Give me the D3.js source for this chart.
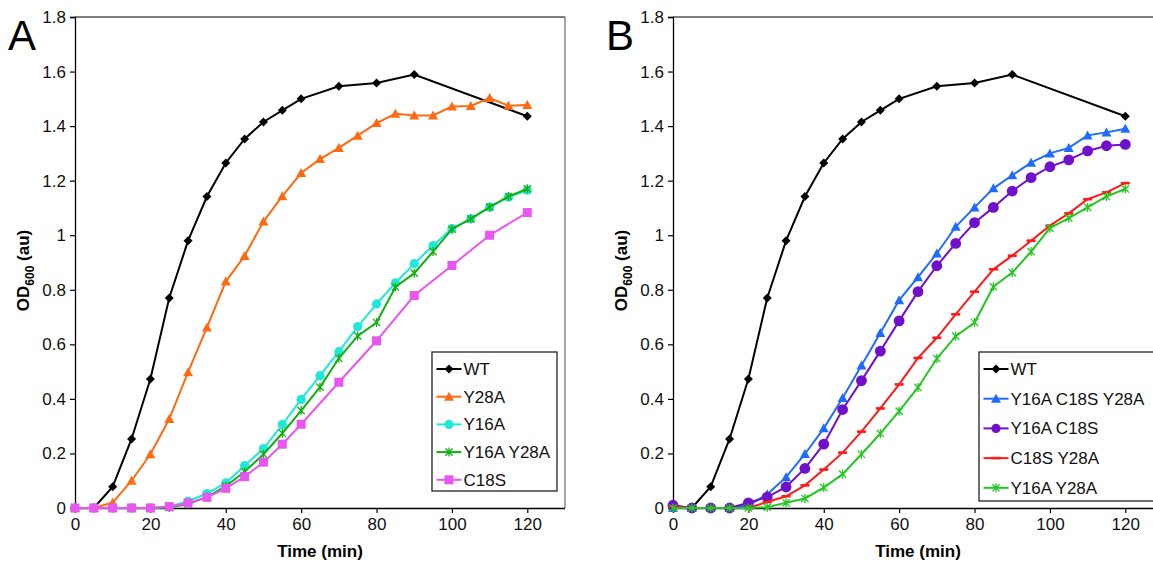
<!DOCTYPE html>
<html>
<head>
<meta charset="utf-8">
<script src="https://cdn.jsdelivr.net/npm/d3@7"></script>
<style>
  html, body { margin: 0; padding: 0; background: #fff; }
  svg { display: block; font-family: "Liberation Sans", Arial, sans-serif; }
</style>
</head>
<body>
<svg id="chart" width="1153" height="565"></svg>
<script>
// ---------- data ----------
const tAll   = [0,5,10,15,20,25,30,35,40,45,50,55,60,65,70,75,80,85,90,95,100,105,110,115,120];
const tWT    = [0,5,10,15,20,25,30,35,40,45,50,55,60,70,80,90,120];
const tC18S  = [0,5,10,15,20,25,30,35,40,45,50,55,60,70,80,90,100,110,120];

const wt        = [0,0,0.078,0.253,0.473,0.77,0.98,1.142,1.265,1.353,1.415,1.458,1.5,1.546,1.558,1.589,1.436];
const y28a      = [0,0,0.02,0.1,0.197,0.326,0.498,0.662,0.83,0.924,1.05,1.143,1.228,1.279,1.32,1.365,1.411,1.445,1.439,1.439,1.472,1.474,1.503,1.475,1.477];
const y16a      = [0,0,0,0,0,0.005,0.025,0.053,0.092,0.155,0.218,0.306,0.398,0.485,0.573,0.665,0.748,0.825,0.896,0.962,1.024,1.06,1.103,1.14,1.165];
const y16aY28aA = [0,0,0,0,0,0.002,0.015,0.04,0.08,0.133,0.197,0.274,0.357,0.443,0.549,0.631,0.68,0.81,0.861,0.94,1.022,1.06,1.103,1.142,1.17];
const c18s      = [0,0,0,0,0,0.005,0.018,0.039,0.072,0.115,0.168,0.234,0.307,0.461,0.613,0.779,0.889,1.0,1.083];

const y16aC18sY28a = [0,0,0,0,0.01,0.05,0.113,0.198,0.292,0.403,0.522,0.642,0.762,0.846,0.933,1.031,1.102,1.172,1.22,1.266,1.3,1.32,1.366,1.377,1.39];
const y16aC18s     = [0.01,0,0,0,0.019,0.04,0.077,0.145,0.234,0.361,0.467,0.575,0.686,0.793,0.888,0.97,1.046,1.102,1.162,1.211,1.251,1.276,1.309,1.328,1.333];
const c18sY28a     = [0.005,0,0,0,0,0.022,0.043,0.083,0.141,0.203,0.28,0.365,0.453,0.55,0.624,0.71,0.793,0.875,0.925,0.98,1.035,1.08,1.132,1.157,1.191];
const y16aY28aB    = [0,0,0,0,0,0.003,0.019,0.035,0.075,0.124,0.197,0.273,0.355,0.442,0.548,0.63,0.68,0.811,0.863,0.94,1.026,1.063,1.102,1.142,1.17];

const xTicks = [0,20,40,60,80,100,120];
const yTicks = [0,0.2,0.4,0.6,0.8,1,1.2,1.4,1.6,1.8];

const panelA = {
  letter: "A", left: 75,
  series: [
    {name:"WT",        t:tWT,   v:wt,        color:"#000000", marker:"diamond"},
    {name:"Y28A",      t:tAll,  v:y28a,      color:"#ff6a10", marker:"triangle"},
    {name:"Y16A",      t:tAll,  v:y16a,      color:"#20e8d8", marker:"circle"},
    {name:"Y16A Y28A", t:tAll,  v:y16aY28aA, color:"#10b010", marker:"star"},
    {name:"C18S",      t:tC18S, v:c18s,      color:"#e855f0", marker:"square"}
  ],
  legend: {x:432, y:352, w:125, h:139, rowH:27.7, firstY:369}
};
const panelB = {
  letter: "B", left: 673,
  series: [
    {name:"WT",             t:tWT,  v:wt,           color:"#000000", marker:"diamond"},
    {name:"Y16A C18S Y28A", t:tAll, v:y16aC18sY28a, color:"#1f6bff", marker:"triangle"},
    {name:"Y16A C18S",      t:tAll, v:y16aC18s,     color:"#7010cc", marker:"bigcircle"},
    {name:"C18S Y28A",      t:tAll, v:c18sY28a,     color:"#ff1a1a", marker:"dash"},
    {name:"Y16A Y28A",      t:tAll, v:y16aY28aB,    color:"#22c822", marker:"star"}
  ],
  legend: {x:979, y:352, w:200, h:149, rowH:29.7, firstY:369}
};

// ---------- drawing ----------
const svg = d3.select("#chart");
const plotTop = 17, plotBottom = 508, plotW = 490;

function drawMarker(g, type, color) {
  switch (type) {
    case "diamond":
      g.append("path").attr("d","M0,-4.5L4.5,0L0,4.5L-4.5,0Z").attr("fill",color); break;
    case "triangle":
      g.append("path").attr("d","M0,-5L5,4L-5,4Z").attr("fill",color); break;
    case "circle":
      g.append("circle").attr("r",4.6).attr("fill",color); break;
    case "bigcircle":
      g.append("circle").attr("r",5.4).attr("fill",color); break;
    case "square":
      g.append("rect").attr("x",-4.5).attr("y",-4.5).attr("width",9).attr("height",9).attr("fill",color); break;
    case "star":
      g.append("path").attr("d","M-3.6,-3.6L3.6,3.6M-3.6,3.6L3.6,-3.6M0,-4.5L0,4.5")
        .attr("stroke",color).attr("stroke-width",1.3).attr("fill","none"); break;
    case "dash":
      g.append("rect").attr("x",-4.5).attr("y",-1.3).attr("width",9).attr("height",2.6).attr("fill",color); break;
  }
}

function drawPanel(p) {
  const x = d3.scaleLinear().domain([0,130]).range([p.left, p.left + plotW]);
  const y = d3.scaleLinear().domain([0,1.8]).range([plotBottom, plotTop]);
  const g = svg.append("g");

  // frame (top / right)
  g.append("line").attr("x1",x(0)).attr("x2",x(130)).attr("y1",y(1.8)).attr("y2",y(1.8))
    .attr("stroke","#555").attr("stroke-width",1.3);
  g.append("line").attr("x1",x(130)).attr("x2",x(130)).attr("y1",y(1.8)).attr("y2",y(0))
    .attr("stroke","#777").attr("stroke-width",1.3);

  // axes
  const xAxis = d3.axisBottom(x).tickValues(xTicks).tickSize(5).tickPadding(5).tickFormat(d3.format("d"));
  const yAxis = d3.axisLeft(y).tickValues(yTicks).tickSize(5).tickPadding(4).tickFormat(d => d3.format("")(d));
  const gx = g.append("g").attr("transform",`translate(0,${plotBottom})`).call(xAxis);
  const gy = g.append("g").attr("transform",`translate(${p.left},0)`).call(yAxis);
  [gx, gy].forEach(a => {
    a.select(".domain").attr("stroke","#000").attr("stroke-width",1.3);
    a.selectAll(".tick line").attr("stroke","#000").attr("stroke-width",1.2);
    a.selectAll(".tick text").attr("font-size",17).attr("fill","#111")
      .attr("font-family","'Liberation Sans', Arial, sans-serif");
  });
  gx.select(".domain").attr("d",`M${x(0)},0.5H${x(130)}`);

  // axis titles
  g.append("text").attr("x", x(65)).attr("y", 557).attr("text-anchor","middle")
    .attr("font-size",17).attr("font-weight","bold").text("Time (min)");
  const yt = g.append("text")
    .attr("transform",`translate(${p.left - 46},${(plotTop+plotBottom)/2 + 8}) rotate(-90)`)
    .attr("text-anchor","middle").attr("font-size",17).attr("font-weight","bold");
  yt.append("tspan").text("OD");
  yt.append("tspan").attr("font-size",12).attr("dy",5).text("600");
  yt.append("tspan").attr("dy",-5).text(" (au)");

  // panel letter
  g.append("text").attr("x", p.left - 67).attr("y", 50).attr("font-size",42).text(p.letter);

  // series
  const line = d3.line().x(d => x(d[0])).y(d => y(d[1]));
  p.series.forEach(s => {
    const pts = s.t.map((t,i) => [t, s.v[i]]);
    const sg = g.append("g");
    sg.append("path").datum(pts).attr("d", line).attr("fill","none")
      .attr("stroke", s.color).attr("stroke-width", 2);
    pts.forEach(d => {
      const m = sg.append("g").attr("transform",`translate(${x(d[0])},${y(d[1])})`);
      drawMarker(m, s.marker, s.color);
    });
  });

  // legend
  const L = p.legend;
  const lg = g.append("g");
  lg.append("rect").attr("x",L.x).attr("y",L.y).attr("width",L.w).attr("height",L.h)
    .attr("fill","#fff").attr("stroke","#222").attr("stroke-width",1.3);
  p.series.forEach((s,i) => {
    const cy = L.firstY + i*L.rowH;
    const x0 = L.x + 4.5;
    lg.append("line").attr("x1",x0).attr("x2",x0+25).attr("y1",cy).attr("y2",cy)
      .attr("stroke",s.color).attr("stroke-width",2);
    const m = lg.append("g").attr("transform",`translate(${x0+12.5},${cy})`);
    drawMarker(m, s.marker === "bigcircle" ? "circle" : s.marker, s.color);
    lg.append("text").attr("x", x0 + 27).attr("y", cy + 6).attr("font-size",17).attr("fill","#111").text(s.name);
  });
}

drawPanel(panelA);
drawPanel(panelB);
</script>
</body>
</html>
